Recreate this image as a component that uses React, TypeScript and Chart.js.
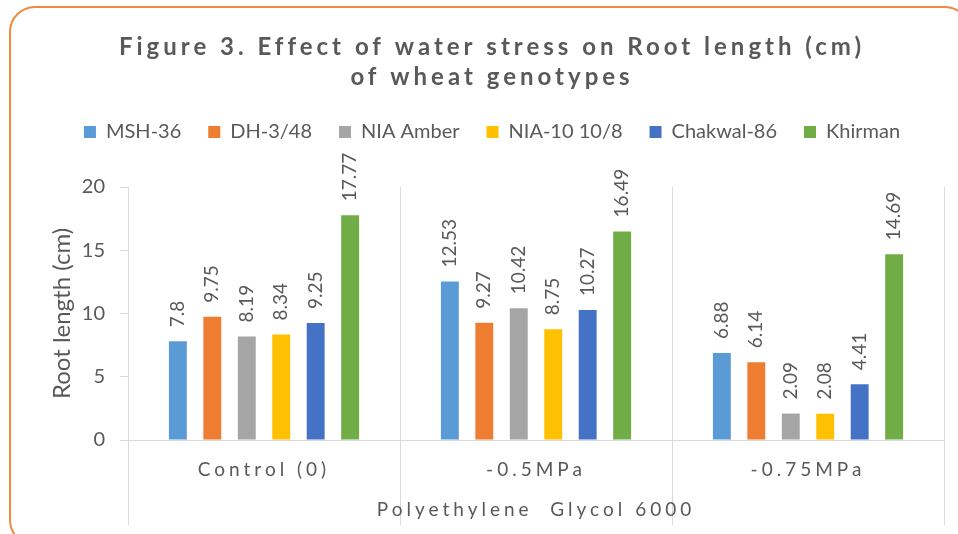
import React, { useEffect, useRef } from 'react';
import { Chart, registerables } from 'chart.js';

Chart.register(...registerables);

// ---- data ----
const categories = ['Control (0)', '-0.5MPa', '-0.75MPa'];
const seriesNames = ['MSH-36', 'DH-3/48', 'NIA Amber', 'NIA-10 10/8', 'Chakwal-86', 'Khirman'];
const msh36 = [7.8, 12.53, 6.88];
const dh348 = [9.75, 9.27, 6.14];
const niaAmber = [8.19, 10.42, 2.09];
const nia10 = [8.34, 8.75, 2.08];
const chakwal86 = [9.25, 10.27, 4.41];
const khirman = [17.77, 16.49, 14.69];
const yTicks = [0, 5, 10, 15, 20];
const titleLines = ['Figure 3. Effect of water stress on Root length (cm)', 'of wheat genotypes'];
const xAxisTitle = 'Polyethylene  Glycol 6000';
const yAxisTitle = 'Root length (cm)';

const seriesValues = [msh36, dh348, niaAmber, nia10, chakwal86, khirman];
const seriesColors = ['#5B9BD5', '#ED7D31', '#A5A5A5', '#FFC000', '#4472C4', '#70AD47'];

const FONT = 'Lato, "Noto Sans", sans-serif';
const TEXT = '#595959';
const GRID = '#D9D9D9';

const spacingPlugin = {
  id: 'letterSpacingPatch',
  afterLayout(chart: any) {
    const wrap = (obj: any, key: string, sp: string) => {
      if (!obj || obj['__wrapped_' + key]) return;
      const orig = obj[key].bind(obj);
      obj[key] = (...args: any[]) => {
        const c = chart.ctx;
        c.save();
        (c as any).letterSpacing = sp;
        orig(...args);
        c.restore();
      };
      obj['__wrapped_' + key] = true;
    };
    wrap(chart.titleBlock, 'draw', '4px');
    wrap(chart.scales.x, 'drawLabels', '4px');
    wrap(chart.scales.x, 'drawTitle', '4px');
  },
};

const valueLabelPlugin = {
  id: 'valueLabels',
  afterDatasetsDraw(chart: any) {
    const ctx = chart.ctx;
    chart.data.datasets.forEach((ds: any, i: number) => {
      const meta = chart.getDatasetMeta(i);
      meta.data.forEach((el: any, j: number) => {
        const v = ds.data[j];
        ctx.save();
        ctx.translate(el.x, el.y - 14);
        ctx.rotate(-Math.PI / 2);
        ctx.font = `19px ${FONT}`;
        ctx.fillStyle = TEXT;
        ctx.textAlign = 'left';
        ctx.textBaseline = 'middle';
        ctx.fillText(String(v), 0, 0);
        ctx.restore();
      });
    });
  },
};

export default function App() {
  const ref = useRef<HTMLCanvasElement | null>(null);

  useEffect(() => {
    if (!ref.current) return;
    const chart = new Chart(ref.current, {
      type: 'bar',
      data: {
        labels: categories,
        datasets: seriesNames.map((name, i) => ({
          label: name,
          data: seriesValues[i],
          backgroundColor: seriesColors[i],
          borderWidth: 0,
          xAxisID: 'x',
          yAxisID: 'y',
          categoryPercentage: 0.76,
          barPercentage: 0.52,
        })),
      },
      plugins: [spacingPlugin, valueLabelPlugin],
      options: {
        responsive: false,
        animation: false,
        devicePixelRatio: 1,
        layout: { padding: { top: 0, left: 40, right: 14, bottom: 0 } },
        plugins: {
          title: {
            display: true,
            text: titleLines,
            color: TEXT,
            font: { family: FONT, size: 24, weight: 'bold', lineHeight: 1.25 },
            padding: { top: 32, bottom: 3 },
          },
          legend: {
            display: true,
            position: 'top',
            labels: {
              boxWidth: 12,
              boxHeight: 12,
              padding: 27,
              color: TEXT,
              font: { family: FONT, size: 20 },
            },
          },
          tooltip: { enabled: false },
        },
        scales: {
          x: {
            type: 'category',
            position: 'bottom',
            grid: {
              display: true,
              offset: true,
              color: GRID,
              lineWidth: 1,
              drawOnChartArea: true,
              drawTicks: true,
              tickLength: 85,
            },
            border: { display: true, color: GRID, width: 1 },
            ticks: {
              color: TEXT,
              font: { family: FONT, size: 19 },
              padding: -67,
              maxRotation: 0,
              autoSkip: false,
            },
            title: {
              display: true,
              text: xAxisTitle,
              color: TEXT,
              font: { family: FONT, size: 19 },
              padding: { top: 0, bottom: 13 },
            },
            afterFit: (s: any) => {
              s.height = 94;
            },
          },
          x2: {
            type: 'category',
            position: 'top',
            labels: categories,
            grid: { display: false, drawTicks: false },
            border: { display: false },
            ticks: { display: false },
            afterFit: (s: any) => {
              s.height = 35;
            },
          },
          y: {
            type: 'linear',
            min: 0,
            max: 20,
            afterBuildTicks: (s: any) => {
              s.ticks = yTicks.map((v) => ({ value: v }));
            },
            ticks: {
              color: TEXT,
              font: { family: FONT, size: 20 },
              padding: 15,
            },
            grid: {
              display: true,
              drawOnChartArea: false,
              drawTicks: true,
              tickLength: 8,
              color: GRID,
            },
            border: { display: false },
            title: {
              display: true,
              text: yAxisTitle,
              color: TEXT,
              font: { family: FONT, size: 24 },
              padding: { top: 8, bottom: 0 },
            },
            afterFit: (s: any) => {
              s.width = 88;
            },
          },
        },
      } as any,
    });
    return () => chart.destroy();
  }, []);

  return (
    <div
      style={{
        position: 'fixed',
        left: 0,
        top: 0,
        width: 958,
        height: 534,
        overflow: 'hidden',
        background: '#ffffff',
      }}
    >
      <canvas ref={ref} width={958} height={534} style={{ display: 'block' }} />
      <div
        style={{
          position: 'absolute',
          left: 9,
          top: 6,
          width: 962,
          height: 540,
          border: '2.5px solid #F0883F',
          borderRadius: 26,
          boxSizing: 'border-box',
          pointerEvents: 'none',
        }}
      />
    </div>
  );
}
